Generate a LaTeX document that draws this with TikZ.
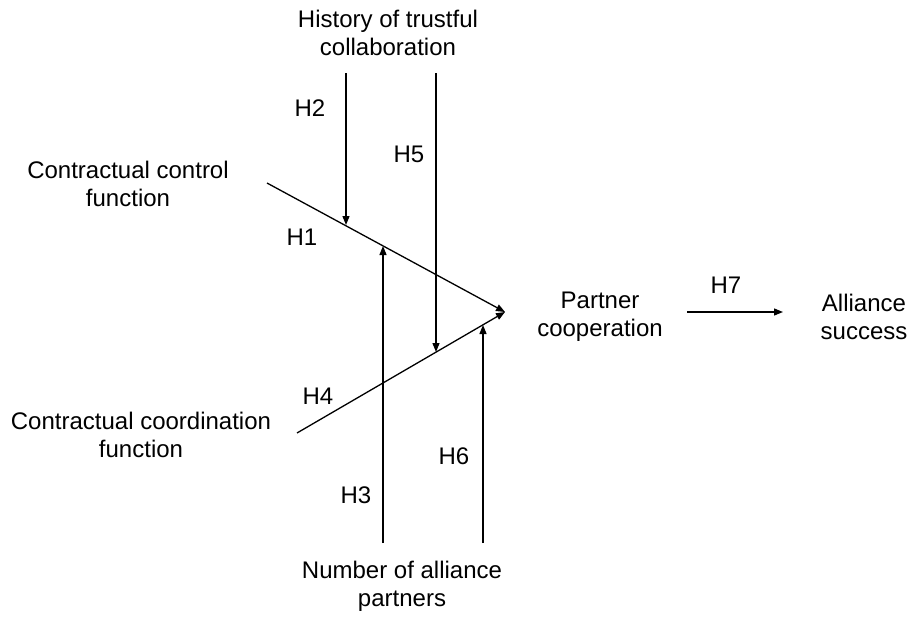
\documentclass[tikz,border=0pt]{standalone}
\usepackage{fontspec}
\setmainfont{Liberation Sans}
\usetikzlibrary{arrows.meta}
\begin{document}
\begin{tikzpicture}[x=1pt,y=-1pt,
  lbl/.style={align=center,inner sep=0pt,font=\fontsize{24}{28}\selectfont},
  hyp/.style={inner sep=0pt,font=\fontsize{24}{28}\selectfont},
  conn/.style={line width=1.3pt},
  arr/.style={line width=1.3pt,-{Triangle[length=9pt,width=7pt]}}]
\useasboundingbox (0,0) rectangle (915,618);
% text nodes
\node[lbl] (hist) at (388,33) {History of trustful\\collaboration};
\node[lbl] (ctrl) at (128,184) {Contractual control\\function};
\node[lbl] (coord) at (141,435) {Contractual coordination\\function};
\node[lbl] (coop) at (600,317) {Partner\\cooperation};
\node[lbl] (succ) at (864,317) {Alliance\\success};
\node[lbl] (num) at (402,586) {Number of alliance\\partners};
% hypothesis labels
\node[hyp] (h1) at (302,237) {H1};
\node[hyp] (h2) at (310,108) {H2};
\node[hyp] (h3) at (356,495) {H3};
\node[hyp] (h4) at (318,396) {H4};
\node[hyp] (h5) at (409,154) {H5};
\node[hyp] (h6) at (454,456) {H6};
\node[hyp] (h7) at (726,285) {H7};
% coordinates
\coordinate (c1) at (267,183);
\coordinate (c2) at (297,433);
\coordinate (P) at (505,312);
\coordinate (t2s) at (346,73);
\coordinate (t2) at (346,225);
\coordinate (t5s) at (436,73);
\coordinate (t5) at (436,352);
\coordinate (t3s) at (383,543);
\coordinate (t3) at (383,246);
\coordinate (t6s) at (483,543);
\coordinate (t6) at (483,325);
\coordinate (a7s) at (687,312);
\coordinate (a7e) at (783,312);
% connectors
\draw[arr] (c1) -- (P);
\draw[arr] (c2) -- (P);
\draw[arr] (t2s) -- (t2);
\draw[arr] (t5s) -- (t5);
\draw[arr] (t3s) -- (t3);
\draw[arr] (t6s) -- (t6);
\draw[arr] (a7s) -- (a7e);
\end{tikzpicture}
\end{document}
